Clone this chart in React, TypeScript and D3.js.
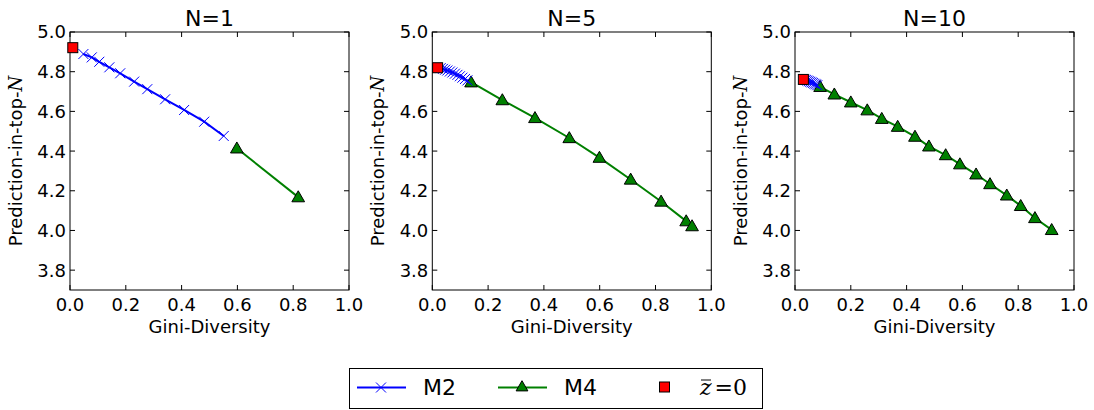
import { useEffect, useRef } from 'react';
import * as d3 from 'd3';

const titles = ['N=1', 'N=5', 'N=10'];
const xTicks = [0.0, 0.2, 0.4, 0.6, 0.8, 1.0];
const yTicks = [3.8, 4.0, 4.2, 4.4, 4.6, 4.8, 5.0];

// M2 (blue x) per panel: [gini, prediction]
const m2N1 = [
  [0.048, 4.889], [0.078, 4.872], [0.105, 4.850], [0.141, 4.822], [0.180, 4.792],
  [0.230, 4.750], [0.277, 4.712], [0.341, 4.661], [0.409, 4.607], [0.481, 4.548], [0.551, 4.476],
];
const m2N5 = [
  [0.030, 4.818], [0.038, 4.814], [0.046, 4.810], [0.054, 4.806], [0.063, 4.801], [0.072, 4.796],
  [0.081, 4.790], [0.090, 4.784], [0.099, 4.777], [0.108, 4.770], [0.117, 4.763], [0.126, 4.756],
];
const m2N10 = [
  [0.035, 4.760], [0.040, 4.758], [0.045, 4.755], [0.050, 4.752], [0.055, 4.749],
  [0.060, 4.746], [0.065, 4.743], [0.070, 4.739], [0.075, 4.736], [0.080, 4.732],
];

// M4 (green triangles)
const m4N1 = [[0.598, 4.414], [0.818, 4.168]];
const m4N5 = [
  [0.139, 4.747], [0.251, 4.657], [0.368, 4.567], [0.491, 4.466], [0.599, 4.367],
  [0.711, 4.257], [0.820, 4.146], [0.910, 4.047], [0.931, 4.022],
];
const m4N10 = [
  [0.090, 4.724], [0.141, 4.686], [0.200, 4.646], [0.259, 4.606], [0.311, 4.563], [0.368, 4.523],
  [0.430, 4.473], [0.480, 4.424], [0.540, 4.380], [0.591, 4.334], [0.649, 4.283], [0.699, 4.234],
  [0.759, 4.177], [0.809, 4.124], [0.860, 4.063], [0.920, 4.003],
];

// z-bar = 0 (red square)
const zeroN1 = [0.010, 4.921];
const zeroN5 = [0.019, 4.820];
const zeroN10 = [0.030, 4.761];

const m2All = [m2N1, m2N5, m2N10];
const m4All = [m4N1, m4N5, m4N10];
const zeroAll = [zeroN1, zeroN5, zeroN10];

const FONT = 'DejaVu Sans';

export default function App() {
  const ref = useRef<SVGSVGElement>(null);

  useEffect(() => {
    const svg = d3.select(ref.current);
    svg.selectAll('*').remove();

    const lefts = [70, 432.3, 795];
    const w = 279;
    const top = 32;
    const bottom = 290;

    const y = d3.scaleLinear().domain([3.7, 5.0]).range([bottom, top]);

    lefts.forEach((left, p) => {
      const x = d3.scaleLinear().domain([0, 1]).range([left, left + w]);
      const g = svg.append('g');

      // frame
      g.append('rect')
        .attr('x', left).attr('y', top)
        .attr('width', w).attr('height', bottom - top)
        .attr('fill', 'none').attr('stroke', 'black').attr('stroke-width', 1);

      // ticks inside, all four sides
      const tl = 5;
      xTicks.forEach(t => {
        const xp = x(t);
        g.append('line').attr('x1', xp).attr('x2', xp).attr('y1', bottom).attr('y2', bottom - tl).attr('stroke', 'black');
        g.append('line').attr('x1', xp).attr('x2', xp).attr('y1', top).attr('y2', top + tl).attr('stroke', 'black');
        g.append('text')
          .attr('x', xp).attr('y', 311)
          .attr('text-anchor', 'middle')
          .attr('font-family', FONT).attr('font-size', 18)
          .text(d3.format('.1f')(t));
      });
      yTicks.forEach(t => {
        const yp = y(t);
        g.append('line').attr('x1', left).attr('x2', left + tl).attr('y1', yp).attr('y2', yp).attr('stroke', 'black');
        g.append('line').attr('x1', left + w).attr('x2', left + w - tl).attr('y1', yp).attr('y2', yp).attr('stroke', 'black');
        g.append('text')
          .attr('x', left - 4).attr('y', yp)
          .attr('dy', '0.36em')
          .attr('text-anchor', 'end')
          .attr('font-family', FONT).attr('font-size', 18)
          .text(d3.format('.1f')(t));
      });

      // title
      g.append('text')
        .attr('x', left + w / 2).attr('y', 26)
        .attr('text-anchor', 'middle')
        .attr('font-family', FONT).attr('font-size', 22)
        .text(titles[p]);

      // x label
      g.append('text')
        .attr('x', left + w / 2).attr('y', 333)
        .attr('text-anchor', 'middle')
        .attr('font-family', FONT).attr('font-size', 18)
        .text('Gini-Diversity');

      // y label
      const yl = g.append('text')
        .attr('transform', `translate(${left - 48},${(top + bottom) / 2}) rotate(-90)`)
        .attr('text-anchor', 'middle')
        .attr('font-family', FONT).attr('font-size', 18);
      yl.append('tspan').text('Prediction-in-top-');
      yl.append('tspan').attr('font-family', 'DejaVu Serif').attr('font-style', 'italic').text('N');

      const line = d3.line<number[]>().x(d => x(d[0])).y(d => y(d[1]));

      // M4
      g.append('path')
        .datum(m4All[p])
        .attr('d', line)
        .attr('fill', 'none').attr('stroke', '#008000').attr('stroke-width', 2);
      const tri = d3.symbol().type(d3.symbolTriangle).size(70);
      g.selectAll('.tri')
        .data(m4All[p])
        .enter().append('path')
        .attr('transform', d => `translate(${x(d[0])},${y(d[1]) + 1})`)
        .attr('d', tri)
        .attr('fill', '#008000').attr('stroke', 'black').attr('stroke-width', 1);

      // M2
      g.append('path')
        .datum(m2All[p])
        .attr('d', line)
        .attr('fill', 'none').attr('stroke', '#0000ff').attr('stroke-width', 2);
      const xs = 5;
      m2All[p].forEach(d => {
        const cx = x(d[0]);
        const cy = y(d[1]);
        g.append('path')
          .attr('d', `M${cx - xs},${cy - xs}L${cx + xs},${cy + xs}M${cx - xs},${cy + xs}L${cx + xs},${cy - xs}`)
          .attr('stroke', '#0000ff').attr('stroke-width', 1);
      });

      // zero
      const z = zeroAll[p];
      g.append('rect')
        .attr('x', x(z[0]) - 5).attr('y', y(z[1]) - 5)
        .attr('width', 10).attr('height', 10)
        .attr('fill', '#ff0000').attr('stroke', 'black').attr('stroke-width', 1);
    });

    // legend
    const lg = svg.append('g');
    lg.append('rect')
      .attr('x', 349.5).attr('y', 368.5)
      .attr('width', 413).attr('height', 40)
      .attr('fill', 'white').attr('stroke', 'black').attr('stroke-width', 1);
    const ly = 387.5;
    lg.append('line').attr('x1', 357).attr('x2', 406).attr('y1', ly).attr('y2', ly).attr('stroke', '#0000ff').attr('stroke-width', 2);
    lg.append('path')
      .attr('d', `M${381 - 5},${ly - 5}L${381 + 5},${ly + 5}M${381 - 5},${ly + 5}L${381 + 5},${ly - 5}`)
      .attr('stroke', '#0000ff').attr('stroke-width', 1);
    lg.append('text').attr('x', 423).attr('y', ly).attr('dy', '0.36em')
      .attr('font-family', FONT).attr('font-size', 22).text('M2');

    lg.append('line').attr('x1', 498).attr('x2', 547).attr('y1', ly).attr('y2', ly).attr('stroke', '#008000').attr('stroke-width', 2);
    lg.append('path')
      .attr('transform', `translate(522,${ly})`)
      .attr('d', d3.symbol().type(d3.symbolTriangle).size(60))
      .attr('fill', '#008000').attr('stroke', 'black').attr('stroke-width', 1);
    lg.append('text').attr('x', 564).attr('y', ly).attr('dy', '0.36em')
      .attr('font-family', FONT).attr('font-size', 22).text('M4');

    lg.append('rect')
      .attr('x', 659.5).attr('y', 382)
      .attr('width', 10).attr('height', 10)
      .attr('fill', '#ff0000').attr('stroke', 'black').attr('stroke-width', 1);
    const zt = lg.append('text').attr('x', 700).attr('y', ly).attr('dy', '0.36em')
      .attr('font-family', 'DejaVu Serif').attr('font-size', 22);
    zt.append('tspan').attr('font-style', 'italic').text('z');
    zt.append('tspan').attr('dx', 3).text('=0');
    lg.append('line').attr('x1', 701).attr('x2', 711).attr('y1', 380).attr('y2', 380).attr('stroke', 'black').attr('stroke-width', 1);
  }, []);

  return (
    <div style={{ position: 'absolute', left: 0, top: 0 }}>
      <svg ref={ref} width={1094} height={410} style={{ display: 'block', background: 'white' }} />
    </div>
  );
}
